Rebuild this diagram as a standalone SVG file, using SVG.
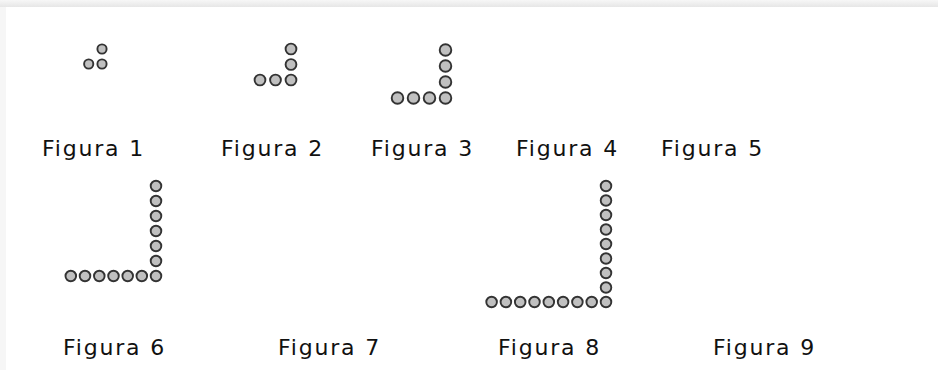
<svg xmlns="http://www.w3.org/2000/svg" width="938" height="370" viewBox="0 0 938 370">
<defs>
<linearGradient id="topband" x1="0" y1="0" x2="0" y2="1">
<stop offset="0" stop-color="#f7f7f7"/>
<stop offset="1" stop-color="#e6e6e6"/>
</linearGradient>
<style>
.d{fill:#c0c0c0;stroke:#333333;stroke-width:1.9}
.lb{font-family:"DejaVu Sans",Verdana,sans-serif;font-size:22px;letter-spacing:1.8px;fill:#111}
</style>
</defs>
<rect x="0" y="0" width="938" height="370" fill="#f6f6f6"/>
<rect x="0" y="0" width="938" height="7" fill="url(#topband)"/>
<rect x="6" y="7" width="932" height="363" fill="#ffffff"/>

<g id="fig1">
<circle class="d" cx="88.7" cy="64" r="4.6"/>
<circle class="d" cx="102" cy="64" r="4.6"/>
<circle class="d" cx="102" cy="49" r="4.6"/>
</g>
<g id="fig2">
<circle class="d" cx="260" cy="80" r="5.4"/>
<circle class="d" cx="275.5" cy="80" r="5.4"/>
<circle class="d" cx="291" cy="80" r="5.4"/>
<circle class="d" cx="291" cy="64.5" r="5.4"/>
<circle class="d" cx="291" cy="49" r="5.4"/>
</g>
<g id="fig3">
<circle class="d" cx="397.5" cy="98" r="5.8"/>
<circle class="d" cx="413.5" cy="98" r="5.8"/>
<circle class="d" cx="429.5" cy="98" r="5.8"/>
<circle class="d" cx="445.5" cy="98" r="5.8"/>
<circle class="d" cx="445.5" cy="82" r="5.8"/>
<circle class="d" cx="445.5" cy="66" r="5.8"/>
<circle class="d" cx="445.5" cy="50" r="5.8"/>
</g>
<g id="fig6">
<circle class="d" cx="70.8" cy="276" r="5.3"/>
<circle class="d" cx="85" cy="276" r="5.3"/>
<circle class="d" cx="99.3" cy="276" r="5.3"/>
<circle class="d" cx="113.5" cy="276" r="5.3"/>
<circle class="d" cx="127.7" cy="276" r="5.3"/>
<circle class="d" cx="141.8" cy="276" r="5.3"/>
<circle class="d" cx="156" cy="276" r="5.3"/>
<circle class="d" cx="156" cy="261" r="5.3"/>
<circle class="d" cx="156" cy="246" r="5.3"/>
<circle class="d" cx="156" cy="231" r="5.3"/>
<circle class="d" cx="156" cy="216" r="5.3"/>
<circle class="d" cx="156" cy="201" r="5.3"/>
<circle class="d" cx="156" cy="186" r="5.3"/>
</g>
<g id="fig8">
<circle class="d" cx="491.6" cy="302" r="5.3"/>
<circle class="d" cx="505.9" cy="302" r="5.3"/>
<circle class="d" cx="520.2" cy="302" r="5.3"/>
<circle class="d" cx="534.5" cy="302" r="5.3"/>
<circle class="d" cx="548.8" cy="302" r="5.3"/>
<circle class="d" cx="563.1" cy="302" r="5.3"/>
<circle class="d" cx="577.4" cy="302" r="5.3"/>
<circle class="d" cx="591.7" cy="302" r="5.3"/>
<circle class="d" cx="606" cy="302" r="5.3"/>
<circle class="d" cx="606" cy="287.5" r="5.3"/>
<circle class="d" cx="606" cy="273" r="5.3"/>
<circle class="d" cx="606" cy="258.5" r="5.3"/>
<circle class="d" cx="606" cy="244" r="5.3"/>
<circle class="d" cx="606" cy="229.5" r="5.3"/>
<circle class="d" cx="606" cy="215" r="5.3"/>
<circle class="d" cx="606" cy="200.5" r="5.3"/>
<circle class="d" cx="606" cy="186" r="5.3"/>
</g>

<g id="labels">
<text class="lb" x="42" y="156">Figura 1</text>
<text class="lb" x="221" y="156">Figura 2</text>
<text class="lb" x="371" y="156">Figura 3</text>
<text class="lb" x="516" y="156">Figura 4</text>
<text class="lb" x="661" y="156">Figura 5</text>
<text class="lb" x="63" y="355">Figura 6</text>
<text class="lb" x="278" y="355">Figura 7</text>
<text class="lb" x="498" y="355">Figura 8</text>
<text class="lb" x="713" y="355">Figura 9</text>
</g>
</svg>
